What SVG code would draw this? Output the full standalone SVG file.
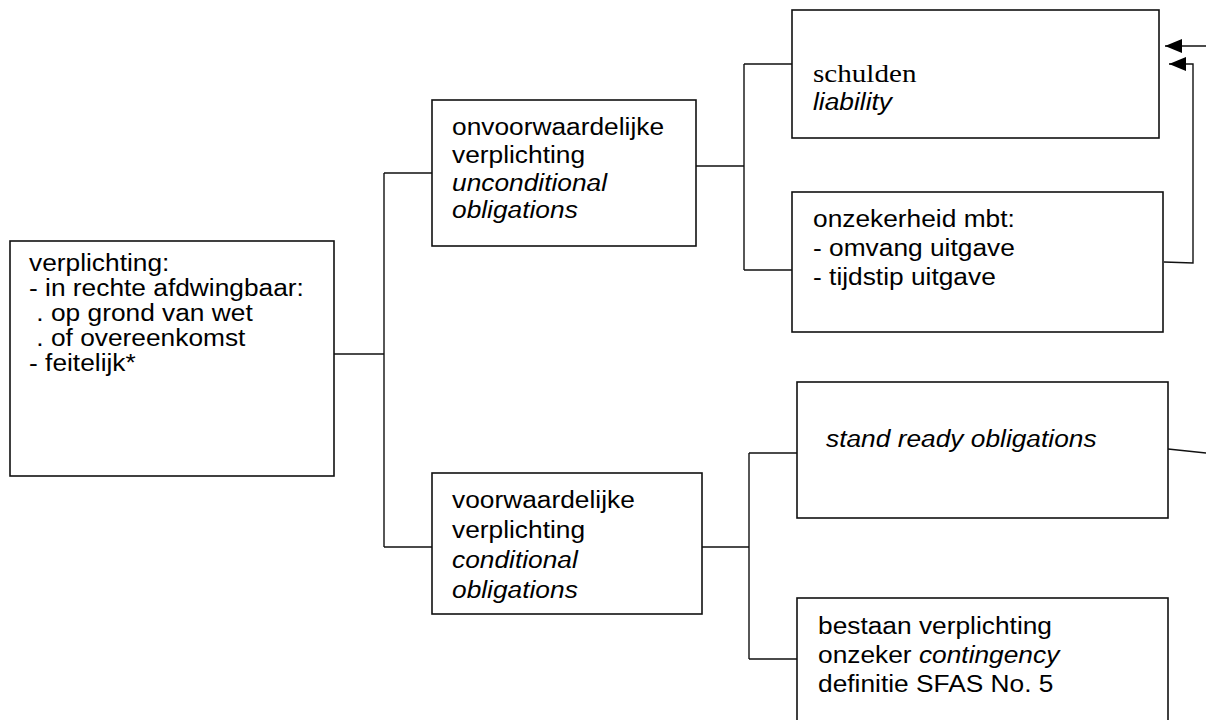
<svg xmlns="http://www.w3.org/2000/svg" width="1206" height="720" viewBox="0 0 1206 720">
<style>
.box{fill:#fff;stroke:#111;stroke-width:1.6}
.ln{fill:none;stroke:#111;stroke-width:1.4}
.t{font-family:"Liberation Sans",Arial,sans-serif;font-size:23.5px;fill:#000}
.s{font-family:"Liberation Serif","Times New Roman",serif;font-size:26px;fill:#000}
.i{font-style:italic}
</style>
<defs>
<marker id="ah" markerUnits="userSpaceOnUse" markerWidth="18" markerHeight="16" refX="17" refY="7" orient="auto">
<path d="M0,0 L17,7 L0,14 Z" fill="#000"/>
</marker>
</defs>
<rect width="1206" height="720" fill="#fff"/>
<g id="connectors">
<path class="ln" d="M334,354 H384 M384,173 V547 M384,173 H432 M384,547 H432"/>
<path class="ln" d="M696,166 H744 M744,64 V270 M744,64 H792 M744,270 H792"/>
<path class="ln" d="M702,547 H749 M749,453 V659 M749,453 H797 M749,659 H797"/>
<path class="ln" d="M1168,449 L1206,453"/>
<path class="ln" d="M1206,46 H1165" marker-end="url(#ah)"/>
<path class="ln" d="M1164,262 L1193,263 V64 H1169" marker-end="url(#ah)"/>
</g>
<g id="node-verplichting">
<rect class="box" x="10" y="241" width="324" height="235"/>
<text class="t" transform="translate(29,0) scale(1.12,1)"><tspan x="0" y="271">verplichting:</tspan><tspan x="0" y="296">- in rechte afdwingbaar:</tspan><tspan x="0" y="321">  . op grond van wet</tspan><tspan x="0" y="346">  . of overeenkomst</tspan><tspan x="0" y="371">- feitelijk*</tspan></text>
</g>
<g id="node-onvoorwaardelijk">
<rect class="box" x="432" y="100" width="264" height="146"/>
<text class="t" transform="translate(452,0) scale(1.12,1)"><tspan x="0" y="135">onvoorwaardelijke</tspan><tspan x="0" y="163">verplichting</tspan><tspan x="0" y="191" class="i">unconditional</tspan><tspan x="0" y="218" class="i">obligations</tspan></text>
</g>
<g id="node-voorwaardelijk">
<rect class="box" x="432" y="473" width="270" height="141"/>
<text class="t" transform="translate(452,0) scale(1.12,1)"><tspan x="0" y="508">voorwaardelijke</tspan><tspan x="0" y="538">verplichting</tspan><tspan x="0" y="568" class="i">conditional</tspan><tspan x="0" y="598" class="i">obligations</tspan></text>
</g>
<g id="node-schulden">
<rect class="box" x="792" y="10" width="367" height="128"/>
<text class="s" transform="translate(813,0) scale(1.12,1)"><tspan x="0" y="82">schulden</tspan></text>
<text class="t i" transform="translate(813,0) scale(1.12,1)"><tspan x="0" y="110">liability</tspan></text>
</g>
<g id="node-onzekerheid">
<rect class="box" x="792" y="192" width="371" height="140"/>
<text class="t" transform="translate(813,0) scale(1.12,1)"><tspan x="0" y="227">onzekerheid mbt:</tspan><tspan x="0" y="256">- omvang uitgave</tspan><tspan x="0" y="285">- tijdstip uitgave</tspan></text>
</g>
<g id="node-standready">
<rect class="box" x="797" y="382" width="371" height="136"/>
<text class="t i" transform="translate(826,0) scale(1.12,1)"><tspan x="0" y="447">stand ready obligations</tspan></text>
</g>
<g id="node-bestaan">
<rect class="box" x="797" y="598" width="371" height="140"/>
<text class="t" transform="translate(818,0) scale(1.12,1)"><tspan x="0" y="634">bestaan verplichting</tspan><tspan x="0" y="663">onzeker <tspan class="i">contingency</tspan></tspan><tspan x="0" y="692">definitie SFAS No. 5</tspan></text>
</g>
</svg>
